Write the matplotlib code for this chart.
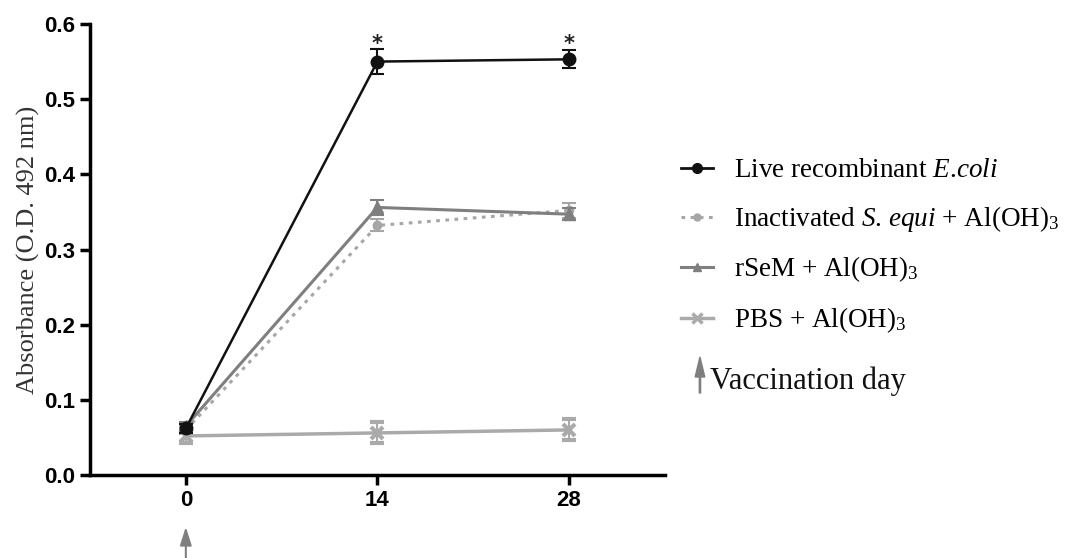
import matplotlib
matplotlib.use("Agg")
import matplotlib.pyplot as plt
from matplotlib.lines import Line2D

plt.rcParams['mathtext.fontset'] = 'custom'
plt.rcParams['mathtext.rm'] = 'Liberation Serif'
plt.rcParams['mathtext.it'] = 'Liberation Serif:italic'

days = [0, 14, 28]
day_labels = ["0", "14", "28"]

live = [0.062, 0.550, 0.553]
live_err = [0.006, 0.017, 0.012]
inact = [0.060, 0.332, 0.352]
inact_err = [0.006, 0.008, 0.010]
rsem = [0.065, 0.356, 0.347]
rsem_err = [0.006, 0.010, 0.008]
pbs = [0.052, 0.056, 0.060]
pbs_err = [0.010, 0.014, 0.014]

star_days = [14, 28]
star_y = [0.574, 0.574]

labels = [r"Live recombinant $\mathit{E}$.$\mathit{coli}$",
          r"Inactivated $\mathit{S}$. $\mathit{equi}$ + Al(OH)$_3$",
          r"rSeM + Al(OH)$_3$",
          r"PBS + Al(OH)$_3$"]

fig = plt.figure(figsize=(10.67, 5.58), dpi=100)
ax = fig.add_axes([0.0844, 0.1487, 0.5386, 0.8083])

ax.errorbar(days, pbs, yerr=pbs_err, color='#aaaaaa', lw=2.5, marker='x', ms=9, mew=3,
            capsize=5, elinewidth=1.5, capthick=1.5, zorder=2)
ax.errorbar(days, inact, yerr=inact_err, color='#a6a6a6', lw=2.2, ls=(0, (1.2, 1.8)), marker='o', ms=6,
            capsize=5, elinewidth=1.5, capthick=1.5, zorder=3)
ax.errorbar(days, rsem, yerr=rsem_err, color='#7f7f7f', lw=2.2, marker='^', ms=8,
            capsize=5, elinewidth=1.5, capthick=1.5, zorder=4)
ax.errorbar(days, live, yerr=live_err, color='#111111', lw=1.8, marker='o', ms=9,
            capsize=5, elinewidth=1.5, capthick=1.5, zorder=5)

for d, y in zip(star_days, star_y):
    ax.text(d, y, "*", ha='center', va='center', fontsize=15, fontweight='bold', color='#222222')

ax.set_xlim(-7, 35)
ax.set_ylim(0, 0.6)
ax.set_xticks(days)
ax.set_xticklabels(day_labels)
ax.set_yticks([0.0, 0.1, 0.2, 0.3, 0.4, 0.5, 0.6])
ax.set_yticklabels(["0.0", "0.1", "0.2", "0.3", "0.4", "0.5", "0.6"])
for lab in ax.get_xticklabels() + ax.get_yticklabels():
    lab.set_fontfamily('Liberation Sans')
    lab.set_fontweight('bold')
    lab.set_fontsize(16)
ax.spines['top'].set_visible(False)
ax.spines['right'].set_visible(False)
for s in ['left', 'bottom']:
    ax.spines[s].set_linewidth(2.5)
ax.tick_params(width=2.5, length=7, pad=4)
ax.set_ylabel("Absorbance (O.D. 492 nm)", fontfamily='Liberation Serif', fontsize=19, color='#333333')
ax.yaxis.set_label_coords(-0.087, 0.5)

handles = [
    Line2D([], [], color='#111111', lw=2.0, marker='o', ms=7),
    Line2D([], [], color='#a6a6a6', lw=2.2, ls=(0, (1.2, 1.8)), marker='o', ms=5),
    Line2D([], [], color='#7f7f7f', lw=2.2, marker='^', ms=6),
    Line2D([], [], color='#aaaaaa', lw=2.5, marker='x', ms=7, mew=2.5),
]
leg = fig.legend(handles, labels, loc='upper left', bbox_to_anchor=(0.615, 0.760),
                 frameon=False, prop={'family': 'Liberation Serif', 'size': 19.5},
                 handlelength=1.2, labelspacing=0.765, handletextpad=0.78, borderpad=0.4)

# Vaccination day legend entry
fig.patches.append(matplotlib.patches.FancyArrow(0.656, 1 - 393/558, 0, 36/558, width=0.0012,
                   head_width=0.009, head_length=20/558, length_includes_head=True,
                   color='#7f7f7f', transform=fig.transFigure, figure=fig))
fig.text(0.665, 1 - 381/558, "Vaccination day", fontfamily='Liberation Serif', fontsize=22,
         va='center', ha='left', color='#111111')

# Arrow under day 0
ax.annotate("", xy=(0, -0.069), xytext=(0, -0.112), xycoords='data', textcoords='data',
            annotation_clip=False,
            arrowprops=dict(arrowstyle='-|>,head_length=1.1,head_width=0.35', color='#7f7f7f',
                            lw=1.5, shrinkA=0, shrinkB=0))

fig.savefig("out.png", dpi=100)
